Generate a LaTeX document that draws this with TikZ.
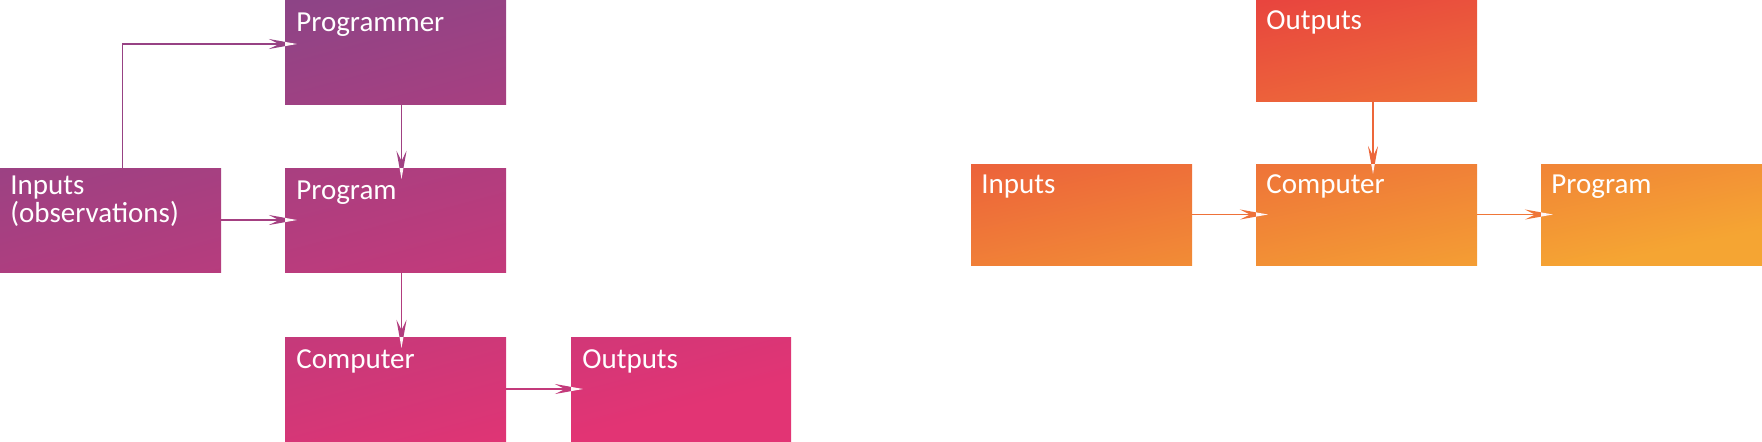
\documentclass[tikz,border=0pt]{standalone}
\usepackage{fontspec}
\setmainfont{Carlito}
\usetikzlibrary{arrows.meta}
\definecolor{lA}{HTML}{8A4587}
\definecolor{lB}{HTML}{E23474}
\definecolor{rA}{HTML}{E73D3F}
\definecolor{rB}{HTML}{F5A533}
\begin{document}
\begin{tikzpicture}[x=0.5pt,y=-0.5pt,
  basebox/.style={rectangle, inner sep=0pt, outer sep=0pt, anchor=north west, draw=none},
  leftbox/.style={basebox, minimum width=110.5pt, minimum height=52pt,
    path picture={\shade[top color=lA, bottom color=lB, shading angle=15] (LA) rectangle (LB);}},
  rightbox/.style={basebox, minimum width=110.5pt, minimum height=50.5pt,
    path picture={\shade[top color=rA, bottom color=rB, shading angle=12] (RA) rectangle (RB);}},
  lbl/.style={anchor=base west, inner sep=0pt, text=white, align=left,
    font=\fontsize{14.5}{11.9}\selectfont},
  arr/.style={line width=0.8pt, -{Stealth[length=14pt,width=5pt,inset=5pt]}},
  tipw/.style={arr, draw=white!88!pink}
]
\useasboundingbox (0,0) rectangle (1762,441);
\coordinate (LA) at (0,0);
\coordinate (LB) at (791,441);
\coordinate (RA) at (971,0);
\coordinate (RB) at (1762,265);

% left diagram
\node[leftbox] (pgmr) at (285,0) {};
\node[leftbox] (inL) at (0,168) {};
\node[leftbox] (progL) at (285,168) {};
\node[leftbox] (compL) at (285,337) {};
\node[leftbox] (outL) at (571,337) {};

\node[lbl] (tpgmr) at ([xshift=5.5pt,yshift=-15.5pt]pgmr.north west) {Programmer};
\node[lbl] (tinL) at ([xshift=5pt,yshift=-27.35pt]inL.north west) {Inputs\\(observations)};
\node[lbl] (tprogL) at ([xshift=5.5pt,yshift=-15.5pt]progL.north west) {Program};
\node[lbl] (tcompL) at ([xshift=5.5pt,yshift=-15.5pt]compL.north west) {Computer};
\node[lbl] (toutL) at ([xshift=5.5pt,yshift=-15.5pt]outL.north west) {Outputs};

\draw[arr, draw=lA!85!lB] ([xshift=6pt]inL.north) |- ([xshift=6pt,yshift=4pt]pgmr.west);
\draw[arr, draw=lA!70!lB] (inL.east) -- ([xshift=6pt]progL.west);
\draw[arr, draw=lA!75!lB] ([xshift=3pt]pgmr.south) -- ([xshift=3pt,yshift=-5.5pt]progL.north);
\draw[arr, draw=lA!55!lB] ([xshift=3pt]progL.south) -- ([xshift=3pt,yshift=-5.5pt]compL.north);
\draw[arr, draw=lA!35!lB] (compL.east) -- ([xshift=6pt]outL.west);

\begin{scope}
\clip (pgmr.north west) rectangle (pgmr.south east);
\draw[tipw] ([xshift=6pt]inL.north) |- ([xshift=6pt,yshift=4pt]pgmr.west);
\end{scope}
\begin{scope}
\clip (progL.north west) rectangle (progL.south east);
\draw[tipw] (inL.east) -- ([xshift=6pt]progL.west);
\draw[tipw] ([xshift=3pt]pgmr.south) -- ([xshift=3pt,yshift=-5.5pt]progL.north);
\end{scope}
\begin{scope}
\clip (compL.north west) rectangle (compL.south east);
\draw[tipw] ([xshift=3pt]progL.south) -- ([xshift=3pt,yshift=-5.5pt]compL.north);
\end{scope}
\begin{scope}
\clip (outL.north west) rectangle (outL.south east);
\draw[tipw] (compL.east) -- ([xshift=6pt]outL.west);
\end{scope}

% right diagram
\node[rightbox] (outR) at (1256,0) {};
\node[rightbox] (inR) at (971,164) {};
\node[rightbox] (compR) at (1256,164) {};
\node[rightbox] (progR) at (1541,164) {};

\node[lbl] (toutR) at ([xshift=5pt,yshift=-14.5pt]outR.north west) {Outputs};
\node[lbl] (tinR) at ([xshift=5pt,yshift=-14.5pt]inR.north west) {Inputs};
\node[lbl] (tcompR) at ([xshift=5pt,yshift=-14.5pt]compR.north west) {Computer};
\node[lbl] (tprogR) at ([xshift=5pt,yshift=-14.5pt]progR.north west) {Program};

\draw[arr, draw=rA!60!rB] ([xshift=3.25pt]outR.south) -- ([xshift=3.25pt,yshift=-5pt]compR.north);
\draw[arr, draw=rA!50!rB] (inR.east) -- ([xshift=6pt]compR.west);
\draw[arr, draw=rA!45!rB] (compR.east) -- ([xshift=6pt]progR.west);

\begin{scope}
\clip (compR.north west) rectangle (compR.south east);
\draw[tipw] ([xshift=3.25pt]outR.south) -- ([xshift=3.25pt,yshift=-5pt]compR.north);
\draw[tipw] (inR.east) -- ([xshift=6pt]compR.west);
\end{scope}
\begin{scope}
\clip (progR.north west) rectangle (progR.south east);
\draw[tipw] (compR.east) -- ([xshift=6pt]progR.west);
\end{scope}
\end{tikzpicture}
\end{document}
